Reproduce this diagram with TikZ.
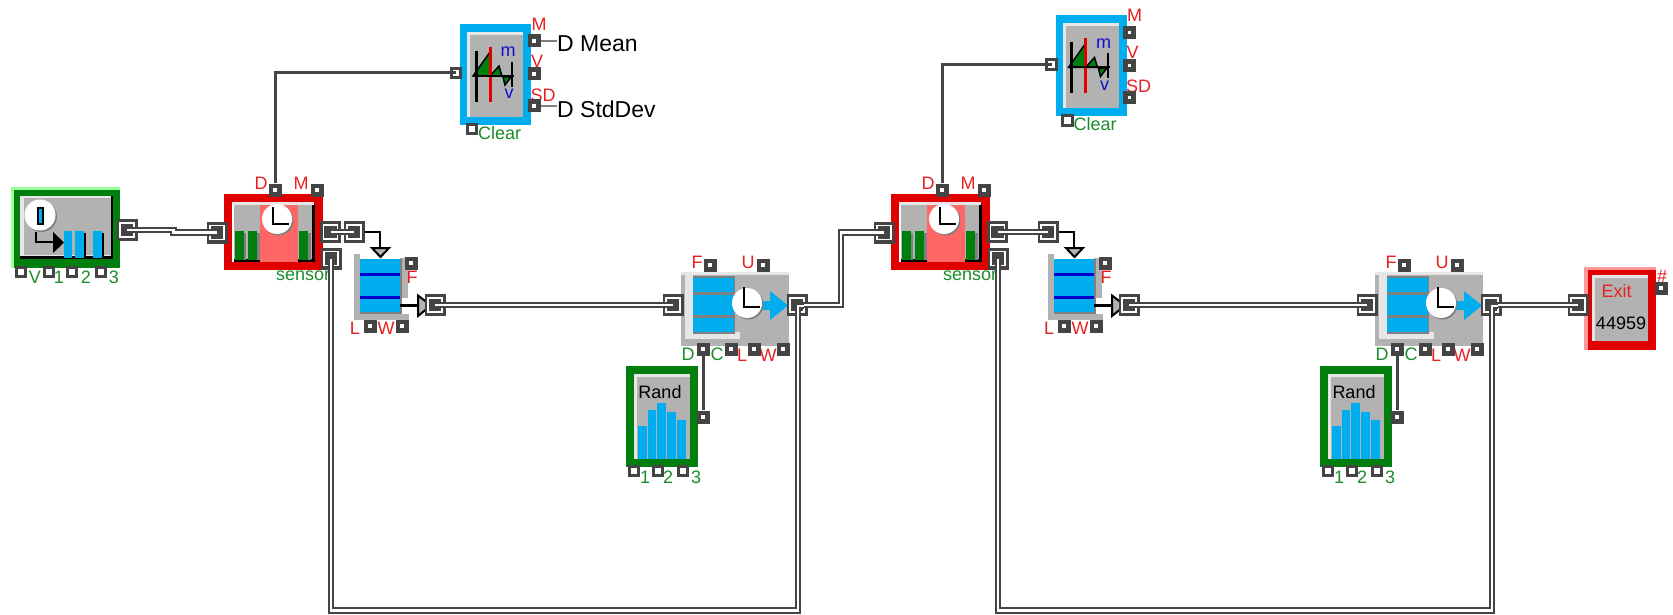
\documentclass[tikz,border=0pt]{standalone}
\usepackage{fontspec}
\setmainfont{Liberation Sans}
\definecolor{dk}{HTML}{444444}
\definecolor{rd}{HTML}{E00000}
\definecolor{ltred}{HTML}{FF9999}
\definecolor{gn}{HTML}{007F0F}
\definecolor{ltgn}{HTML}{99FF99}
\definecolor{bl}{HTML}{00AEEF}
\definecolor{gy}{HTML}{B2B2B2}
\definecolor{mg}{HTML}{808080}
\definecolor{lg}{HTML}{E6E6E6}
\definecolor{pk}{HTML}{FF6666}
\definecolor{labred}{HTML}{E62020}
\definecolor{labgn}{HTML}{1A8C2A}
\definecolor{labbl}{HTML}{1010D0}
\definecolor{dkbl}{HTML}{0000CC}
\tikzset{
  lab/.style={inner sep=0pt,font=\fontsize{18}{18}\selectfont},
  redlab/.style={lab,text=labred},
  grnlab/.style={lab,text=labgn},
  blulab/.style={lab,text=labbl},
  txtlab/.style={inner sep=0pt,font=\fontsize{23}{23}\selectfont,text=black},
  dport/.style={rectangle,fill=dk,inner sep=0pt,minimum size=13pt,
    path picture={\fill[white] ([xshift=-1.6pt,yshift=-1.6pt]path picture bounding box.center) rectangle ++(3.2pt,3.2pt);}},
  eport/.style={rectangle,draw=dk,line width=3pt,fill=white,inner sep=0pt,minimum size=9.5pt},
  iport/.style={rectangle,fill=dk,inner sep=0pt,minimum width=21pt,minimum height=22pt,
    path picture={\draw[white,line width=1.2pt] ([xshift=-7pt,yshift=-7pt]path picture bounding box.center) rectangle ++(14pt,14pt);}},
  wire/.style={draw=dk,line width=2pt,double=white,double distance=2.6pt},
  sig/.style={draw=dk,line width=3pt},
  stub/.style={draw=mg,line width=2pt},
  feed/.style={draw=black,line width=2.4pt},
  tri/.style={fill=gy,draw=black,line width=2pt,line join=miter},
}
\newcommand\rbox[5]{\fill[#1] (#2,#3) rectangle (#4,#5);}
\newcommand\clockface[5]{%
  \fill[mg] (#1+1.5,#2+1.5) circle (15);
  \fill[white] (#1,#2) circle (15);
  \draw[black,line width=2pt] (#3,#5) -- (#3,#4) -- (#3+15.5,#4);
}
\newcommand\sensorblock[2]{
\begin{scope}[shift={(#2,0)}]
  \rbox{rd}{224}{194}{323}{270}
  \rbox{white}{232}{202}{314}{262}
  \rbox{gy}{234}{205}{312}{260}
  \rbox{black}{312}{204}{314.5}{262}
  \rbox{lg}{232}{202}{314}{205}
  \rbox{black}{234}{259}{312}{262}
  \rbox{pk}{260}{205}{298}{262}
  \rbox{mg}{243}{233}{246}{260}
  \rbox{mg}{257}{233}{260}{260}
  \rbox{mg}{308}{233}{311}{260}
  \rbox{gn}{235}{231}{243.5}{260}
  \rbox{gn}{248}{231}{257}{260}
  \rbox{gn}{299}{231}{308}{260}
  \clockface{277}{219}{273}{224}{207}
  \node[redlab] (#1Dl) at (261,183) {D};
  \node[redlab] (#1Ml) at (301,183) {M};
  \node[grnlab,anchor=west] (#1name) at (276,276) {sensor};
  \node[dport] (#1D) at (275,190) {};
  \node[dport] (#1M) at (317,190) {};
  \node[iport] (#1in) at (217,232.5) {};
  \node[iport] (#1out) at (330.5,232) {};
  \node[iport] (#1ret) at (331,258.5) {};
\end{scope}}
\newcommand\queueblock[2]{
\begin{scope}[shift={(#2,0)}]
  \rbox{gy}{354}{254}{360}{320}
  \rbox{gy}{354}{314}{409}{320}
  \rbox{gy}{400}{258}{408}{298}
  \rbox{mg}{360}{259}{402}{314}
  \rbox{bl}{360}{259}{400}{312}
  \rbox{dkbl}{360}{272.5}{400}{275.5}
  \rbox{dkbl}{360}{295.5}{400}{298.5}
  \node[dport] (#1F) at (411,263) {};
  \node[dport] (#1L) at (370,326) {};
  \node[dport] (#1W) at (402,326) {};
  \node[redlab] (#1Fl) at (412,277) {F};
  \node[redlab] (#1Ll) at (355,328) {L};
  \node[redlab] (#1Wl) at (386,328) {W};
  \coordinate (#1blue) at (400,305.5);
  \coordinate (#1tin) at (380,248);
  \coordinate (#1tout) at (418,305.5);
  \draw[tri] (372,248) -- (389,248) -- (380.5,257) -- cycle;
  \draw[tri] (418,295.5) -- (418,316) -- (431,305.5) -- cycle;
  \node[iport] (#1in) at (354,232) {};
  \node[iport] (#1out) at (435,305) {};
\end{scope}}
\newcommand\actblock[2]{
\begin{scope}[shift={(#2,0)}]
  \rbox{gy}{681}{272}{789}{346}
  \rbox{lg}{681}{272}{789}{274.5}
  \rbox{lg}{685}{274}{693}{339}
  \rbox{lg}{685}{332}{740}{339}
  \rbox{mg}{693}{276}{735}{334}
  \rbox{bl}{693}{278}{734}{292}
  \rbox{bl}{693}{295}{734}{315}
  \rbox{bl}{693}{318}{734}{332}
  \rbox{bl}{760}{301}{772}{310}
  \fill[bl] (770,291) -- (788,305.5) -- (770,320) -- cycle;
  \clockface{747}{303}{744}{307}{287}
  \node[redlab] (#1Fl) at (697,262) {F};
  \node[redlab] (#1Ul) at (748,262) {U};
  \node[grnlab] (#1Dl) at (688,354) {D};
  \node[grnlab] (#1Cl) at (717,354) {C};
  \node[redlab] (#1Ll) at (742,355) {L};
  \node[redlab] (#1Wl) at (768,355) {W};
  \node[dport] (#1F) at (710,265) {};
  \node[dport] (#1U) at (763,265) {};
  \node[dport] (#1D) at (703,349) {};
  \node[dport] (#1C) at (731,349) {};
  \node[dport] (#1L) at (754,349) {};
  \node[dport] (#1W) at (783,349) {};
  \node[iport] (#1in) at (673,305) {};
  \node[iport] (#1out) at (797,305) {};
  \coordinate (#1retb) at (798,610.5);
  \coordinate (#1rett) at (798,306);
  \coordinate (#1rete) at (804,306);
\end{scope}}
\newcommand\randblock[2]{
\begin{scope}[shift={(#2,0)}]
  \rbox{gn}{626}{366}{698}{467}
  \rbox{lg}{634}{374}{690}{459}
  \rbox{gy}{637}{377}{690}{459}
  \rbox{bl}{638}{426}{647}{459}
  \rbox{bl}{648}{410}{656}{459}
  \rbox{bl}{657}{403}{666}{459}
  \rbox{bl}{667}{412}{676}{459}
  \rbox{bl}{677}{420}{686}{459}
  \node[lab] (#1txt) at (660,392) {Rand};
  \node[dport] (#1out) at (703,417) {};
  \node[eport] (#1a) at (634,471) {};
  \node[eport] (#1b) at (658,471) {};
  \node[eport] (#1c) at (683,471) {};
  \node[grnlab] (#1al) at (645,477) {1};
  \node[grnlab] (#1bl) at (668,477) {2};
  \node[grnlab] (#1cl) at (696,477) {3};
\end{scope}}
\newcommand\statblock[3]{
\begin{scope}[shift={(#2,#3)}]
  \rbox{bl}{460}{24}{531}{125}
  \rbox{lg}{467}{32}{523}{117}
  \rbox{gy}{470}{35}{523}{117}
  \fill[gn,draw=black,line width=1.5pt] (473,76) -- (490,52) -- (490,76) -- cycle;
  \fill[gn,draw=black,line width=1.5pt] (490,76) -- (499,66) -- (502,76) -- cycle;
  \fill[gn,draw=black,line width=1.5pt] (503,77) -- (505,85) -- (511,77) -- cycle;
  \draw[black,line width=3pt] (476,51) -- (476,102);
  \draw[rd,line width=3pt] (490,47) -- (490,102);
  \draw[black,line width=2pt] (473,76) -- (514,76);
  \draw[black,line width=2pt] (512,62) -- (512,87);
  \node[blulab] (#1m) at (508,52) {m};
  \node[blulab] (#1v) at (509,94) {v};
  \node[redlab] (#1Ml) at (539,24) {M};
  \node[redlab] (#1Vl) at (537,61) {V};
  \node[redlab] (#1SDl) at (543,95) {SD};
  \node[grnlab,anchor=west] (#1Cl) at (478,133) {Clear};
  \node[dport] (#1M) at (534,41) {};
  \node[dport] (#1V) at (534,74) {};
  \node[dport] (#1SD) at (534,106) {};
  \node[eport] (#1in) at (456,73) {};
  \node[eport] (#1clr) at (472,129) {};
\end{scope}}
\begin{document}
\begin{tikzpicture}[x=1pt,y=-1pt]
\useasboundingbox (0,0) rectangle (1673,615);
\fill[white] (0,0) rectangle (1673,615);
% source
\rbox{ltgn}{11}{187}{120}{268}
\rbox{gn}{14}{190}{120}{268}
\rbox{black}{20}{196}{113}{259}
\rbox{lg}{20}{196}{111}{256}
\rbox{gy}{24}{198}{110.5}{255}
\rbox{bl}{64}{231}{72}{258}
\rbox{bl}{75}{231}{84}{258}
\rbox{bl}{93}{231}{102}{258}
\rbox{black}{84}{233}{86}{258}
\rbox{black}{102}{233}{104}{258}
\fill[mg] (41.5,216.5) circle (15.5);
\fill[white] (40,215) circle (15.5);
\draw[black,line width=1.5pt,fill=bl] (38,208) rectangle (43,224);
\draw[black,line width=2.5pt] (36,232) -- (36,242) -- (55,242);
\fill[black] (53,232) -- (64,242.5) -- (53,253) -- cycle;
\node[eport] (srcV) at (21,272) {};
\node[eport] (src1) at (49,272) {};
\node[eport] (src2) at (72,272) {};
\node[eport] (src3) at (101,272) {};
\node[grnlab] (srcVl) at (35,277) {V};
\node[grnlab] (src1l) at (59,277) {1};
\node[grnlab] (src2l) at (86,277) {2};
\node[grnlab] (src3l) at (114,277) {3};
\node[iport] (srcout) at (127,230) {};

\sensorblock{sa}{0}
\sensorblock{sb}{667}
\queueblock{qa}{0}
\queueblock{qb}{694}
\actblock{aa}{0}
\actblock{ab}{694}
\randblock{ra}{0}
\randblock{rb}{694}
\statblock{ta}{0}{0}
\statblock{tb}{595.5}{-8.5}

% exit
\rbox{ltred}{1584}{267}{1656}{350}
\rbox{rd}{1588}{270}{1656}{350}
\rbox{lg}{1592}{275}{1648}{341}
\rbox{gy}{1595}{278}{1648}{341}
\node[redlab] (exitname) at (1616.5,291) {Exit};
\node[lab] (exitcount) at (1621,323) {44959};
\node[dport] (exitnum) at (1661,288) {};
\node[redlab] (exitnuml) at (1662,276) {\#};
\node[iport] (exitin) at (1578,305) {};

% free text
\node[txtlab,anchor=west] (dmean) at (557,44) {D Mean};
\node[txtlab,anchor=west] (dstd) at (557,109) {D StdDev};

% single connectors
\draw[sig] (saD.north) |- (tain.center);
\draw[sig] (sbD.north) |- (tbin.center);
\draw[sig] (raout.north) -- (aaD.south);
\draw[sig] (rbout.north) -- (abD.south);
\draw[stub] (taM.east) -- (taM.east -| dmean.west);
\draw[stub] (taSD.east) -- (taSD.east -| dstd.west);

% queue feeds
\draw[feed] (qain.east) -| (qatin);
\draw[feed] (qbin.east) -| (qbtin);
\draw[feed] (qablue) -- (qatout);
\draw[feed] (qbblue) -- (qbtout);

% item connectors
\coordinate (jog) at (173.5,231);
\draw[wire] (srcout.center) -| (jog) |- (sain.center);
\draw[wire] (saout.center) -- (qain.center);
\draw[wire] (sbout.center) -- (qbin.center);
\draw[wire] (qaout.center) -- (aain.center);
\draw[wire] (qbout.center) -- (abin.center);
\coordinate (hop) at (841,268);
\draw[wire] (aaout.center) -| (hop) |- (sbin.center);
\draw[wire] (about.center) -- (exitin.center);
\draw[wire] (saret.center) |- (aaretb) -- (aarett) -- (aarete);
\draw[wire] (sbret.center) |- (abretb) -- (abrett) -- (abrete);
\end{tikzpicture}
\end{document}
